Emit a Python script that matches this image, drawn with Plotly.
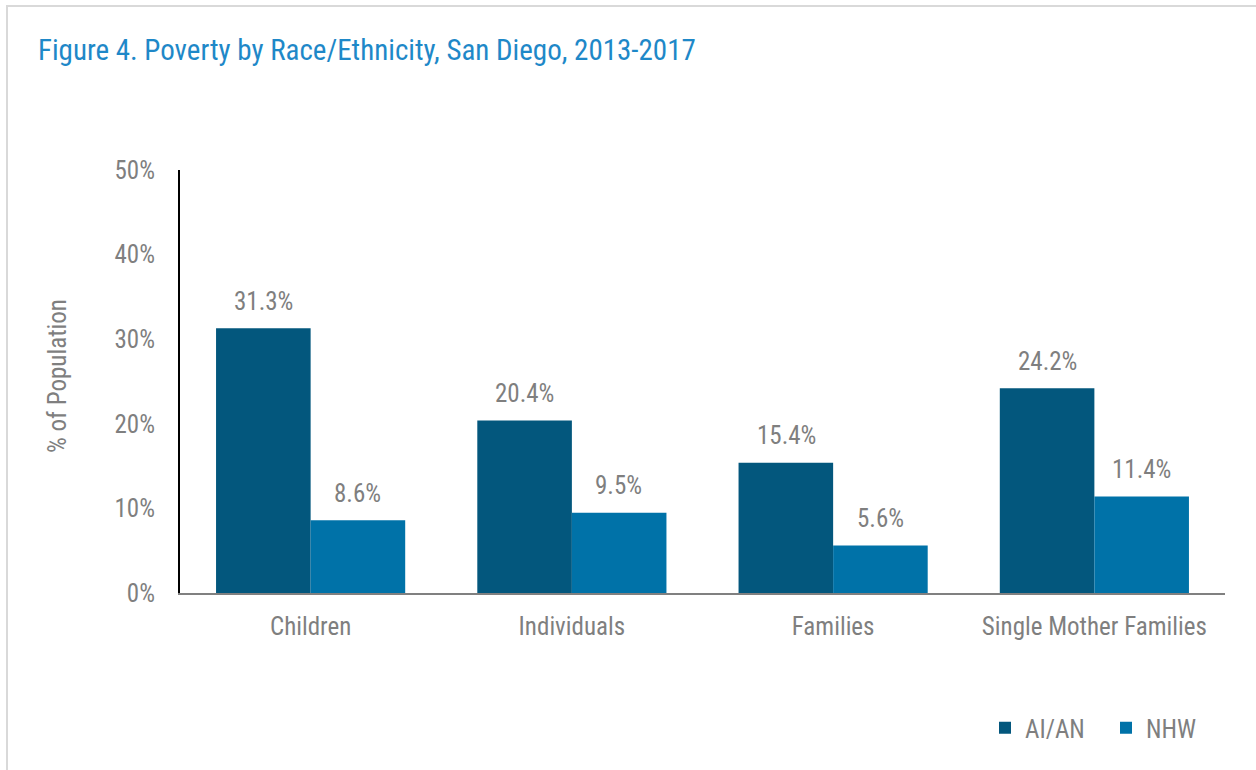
import plotly.graph_objects as go

categories = ["Children", "Individuals", "Families", "Single Mother Families"]
aian = [31.3, 20.4, 15.4, 24.2]
nhw = [8.6, 9.5, 5.6, 11.4]
tick_vals = [0, 10, 20, 30, 40, 50]
tick_text = ["0%", "10%", "20%", "30%", "40%", "50%"]

FONT = "Liberation Sans Narrow, Arial Narrow, Roboto Condensed, Liberation Sans, sans-serif"
GRAY = "#7f7f7f"
LBL = 25

W, H = 1256, 770
L, R, T, B = 180, 31, 170, 177
pw, ph = W - L - R, H - T - B
HALF_BAR = 47  # half a bar's width in px, for centring the value labels


def px(x):
    return (x - L) / pw


def py(y):
    return (H - B - y) / ph


fig = go.Figure()
fig.add_trace(go.Bar(x=categories, y=aian, name="AI/AN", marker=dict(color="#03577D", line=dict(width=0))))
fig.add_trace(go.Bar(x=categories, y=nhw, name="NHW", marker=dict(color="#0072A8", line=dict(width=0))))

for series, shift in ((aian, -HALF_BAR), (nhw, HALF_BAR)):
    for cat, v in zip(categories, series):
        fig.add_annotation(x=cat, y=v, text=f"{v:.1f}%", showarrow=False, xshift=shift, yshift=27,
                           xanchor="center", yanchor="middle",
                           font=dict(size=LBL, color=GRAY, family=FONT))

fig.update_layout(
    width=W, height=H,
    margin=dict(l=L, r=R, t=T, b=B),
    paper_bgcolor="white", plot_bgcolor="white",
    barmode="group", bargap=0.276, bargroupgap=0,
    font=dict(family=FONT, color=GRAY, size=LBL),
    title=dict(text="Figure 4. Poverty by Race/Ethnicity, San Diego, 2013-2017",
               x=38 / W, xanchor="left", y=1 - 50 / H, yanchor="middle",
               font=dict(size=29, color="#1E88C8", family=FONT)),
    xaxis=dict(showline=True, linecolor="#808080", linewidth=2, ticks="", showgrid=False,
               tickfont=dict(size=LBL, color=GRAY), range=[-0.5, 3.5], ticklabelstandoff=10),
    yaxis=dict(range=[0, 50], tickvals=tick_vals, ticktext=tick_text, showline=True,
               linecolor="black", linewidth=2, showgrid=False, zeroline=False, ticks="",
               tickfont=dict(size=LBL, color=GRAY), ticklabelstandoff=18),
    legend=dict(orientation="h", x=px(985), xanchor="left", y=py(728), yanchor="middle",
                font=dict(size=LBL, color=GRAY), itemwidth=30, traceorder="normal",
                entrywidth=76, entrywidthmode="pixels"),
    showlegend=True,
)

fig.add_annotation(text="% of Population", xref="paper", yref="paper", x=px(57), y=py(376),
                   xanchor="center", yanchor="middle", textangle=-90, showarrow=False,
                   font=dict(size=LBL, color=GRAY, family=FONT))

fig.add_shape(type="rect", xref="paper", yref="paper",
              x0=px(7), x1=px(1270), y0=py(6), y1=py(790),
              line=dict(color="#D9D9D9", width=2), fillcolor="rgba(0,0,0,0)", layer="below")

fig.write_html("out.html", config={"displayModeBar": False},
               post_script="document.body.style.margin='0';document.body.style.overflow='hidden';")
